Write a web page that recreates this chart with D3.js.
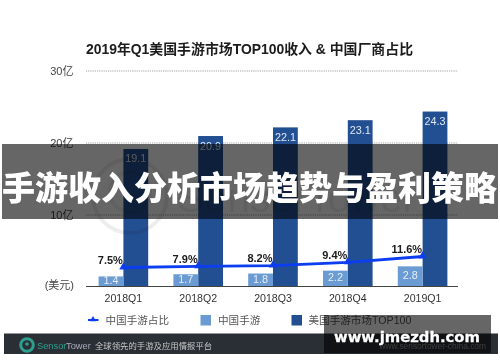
<!DOCTYPE html>
<html><head><meta charset="utf-8">
<script src="https://cdn.jsdelivr.net/npm/d3@7/dist/d3.min.js"></script>
<style>
html,body{margin:0;padding:0;background:#fff}
svg{display:block}
text{font-family:"Liberation Sans","Noto Sans CJK SC",sans-serif}
</style></head><body>
<svg id="c" width="500" height="362"></svg>
<script>
const categories=["2018Q1","2018Q2","2018Q3","2018Q4","2019Q1"];
const top100=[19.1,20.9,22.1,23.1,24.3];
const chinaGames=[1.4,1.7,1.8,2.2,2.8];
const share=[7.5,7.9,8.2,9.4,11.6];
const shareLabels=["7.5%","7.9%","8.2%","9.4%","11.6%"];
const yTicks=[10,20,30];
const yTickLabels=["10亿","20亿","30亿"];
const legendLabels=["中国手游占比","中国手游","美国手游市场TOP100"];
const titleText="2019年Q1美国手游市场TOP100收入 & 中国厂商占比";
const overlayText="手游收入分析市场趋势与盈利策略";

const svg=d3.select("#c");
const defs=svg.append("defs");
defs.append("filter").attr("id","soft").attr("filterUnits","userSpaceOnUse")
  .attr("x",0).attr("y",0).attr("width",500).attr("height",362)
  .append("feGaussianBlur").attr("stdDeviation",0.45);
defs.append("filter").attr("id","soft2").attr("filterUnits","userSpaceOnUse")
  .attr("x",0).attr("y",0).attr("width",500).attr("height",362)
  .append("feGaussianBlur").attr("stdDeviation",0.3);
const chart=svg.append("g").attr("filter","url(#soft)");

const x=d3.scaleBand().domain(categories).range([86,460]);
const cx=d=>x(d)+x.bandwidth()/2;
const y=d3.scaleLinear().domain([0,30]).range([286.5,70.5]);
const shareY=d3.scaleLinear().domain([7.5,11.6]).range([267.5,256.5]);
const barW=24.8;

chart.append("text").attr("x",86).attr("y",54).attr("font-size",13.9).attr("font-weight",700)
  .attr("fill","#1a1a1a").text(titleText);

const gy=chart.append("g").attr("transform","translate(86,0)")
  .call(d3.axisLeft(y).tickValues(yTicks).tickSize(-372).tickPadding(0).tickFormat((d,i)=>yTickLabels[i]));
gy.select(".domain").remove();
gy.selectAll(".tick line").attr("stroke","#8a8a8a").attr("stroke-width",0.8).attr("stroke-dasharray","1.2 1");
gy.selectAll(".tick text").attr("x",-12.5).attr("font-size",11).attr("fill","#444");

chart.append("text").attr("x",74).attr("y",289).attr("text-anchor","end").attr("font-size",11).attr("fill","#444").text("(美元)");

chart.selectAll(".top").data(categories).join("rect").attr("class","top").attr("x",d=>cx(d)).attr("width",barW)
  .attr("y",(d,i)=>y(top100[i])).attr("height",(d,i)=>y(0)-y(top100[i])).attr("fill","#245091");
chart.selectAll(".cn").data(categories).join("rect").attr("class","cn").attr("x",d=>cx(d)-barW).attr("width",barW)
  .attr("y",(d,i)=>y(chinaGames[i])).attr("height",(d,i)=>y(0)-y(chinaGames[i])).attr("fill","#6a9bd2");

chart.selectAll(".tv").data(categories).join("text").attr("class","tv").attr("x",d=>cx(d)+barW/2).attr("y",(d,i)=>y(top100[i])+13.5)
  .attr("text-anchor","middle").attr("font-size",10.8).attr("fill","#dfe7f2").text((d,i)=>top100[i].toFixed(1));
chart.selectAll(".cv").data(categories).join("text").attr("class","cv").attr("x",d=>cx(d)-barW/2)
  .attr("y",(d,i)=>(y(chinaGames[i])+y(0))/2+2.5)
  .attr("text-anchor","middle").attr("font-size",10.8).attr("fill","#e6eef8").text((d,i)=>chinaGames[i].toFixed(1));

chart.append("path").datum(categories).attr("fill","none").attr("stroke","#0a3cf0").attr("stroke-width",2.8)
  .attr("d",d3.line().x(d=>cx(d)).y(d=>shareY(share[categories.indexOf(d)])));
chart.selectAll(".m").data(categories).join("path").attr("class","m")
  .attr("d",d3.symbol(d3.symbolTriangle,30))
  .attr("transform",(d,i)=>`translate(${cx(d)},${shareY(share[i])-0.5})`).attr("fill","#0a3cf0");
chart.selectAll(".sl").data(categories).join("text").attr("class","sl").attr("x",d=>cx(d)-0.5).attr("y",(d,i)=>shareY(share[i])-3.5)
  .attr("text-anchor","end").attr("font-size",11).attr("font-weight",700).attr("fill","#1a1a1a").text((d,i)=>shareLabels[i]);

chart.append("line").attr("x1",86).attr("x2",458).attr("y1",y(0)).attr("y2",y(0)).attr("stroke","#444").attr("stroke-width",1);
chart.selectAll(".xl").data(categories).join("text").attr("class","xl").attr("x",cx).attr("y",302).attr("text-anchor","middle")
  .attr("font-size",10.6).attr("fill","#333").text(d=>d);

// legend
const lg=chart.append("g");
lg.append("line").attr("x1",88).attr("x2",98.5).attr("y1",320).attr("y2",320).attr("stroke","#0a3cf0").attr("stroke-width",2);
lg.append("path").attr("d",d3.symbol(d3.symbolTriangle,16)).attr("transform","translate(93,319.5)").attr("fill","#0a3cf0");
lg.append("text").attr("x",105.5).attr("y",324).attr("font-size",10.6).attr("fill","#555").text(legendLabels[0]);
lg.append("rect").attr("x",200.5).attr("y",315).attr("width",10.5).attr("height",10.5).attr("fill","#6a9bd2");
lg.append("text").attr("x",218).attr("y",324).attr("font-size",10.6).attr("fill","#555").text(legendLabels[1]);
lg.append("rect").attr("x",291.5).attr("y",315).attr("width",10.5).attr("height",10.5).attr("fill","#245091");
lg.append("text").attr("x",308.5).attr("y",324).attr("font-size",10.6).attr("fill","#555").text(legendLabels[2]);

// footer
chart.append("rect").attr("x",4).attr("y",333.5).attr("width",494).attr("height",20.5).attr("fill","#2b2f36");
chart.append("circle").attr("cx",27).attr("cy",345).attr("r",6.3).attr("fill","none").attr("stroke","#2f9e8f").attr("stroke-width",3);
chart.append("circle").attr("cx",27).attr("cy",344).attr("r",1.8).attr("fill","#2f9e8f");
chart.append("text").attr("x",37).attr("y",349).attr("font-size",9.3).attr("fill","#2f9e8f").text("Sensor");
chart.append("text").attr("x",66).attr("y",349).attr("font-size",9.3).attr("fill","#aab").text("Tower");
chart.append("text").attr("x",95).attr("y",349).attr("font-size",8.4).attr("fill","#c8c8c8").text("全球领先的手游及应用情报平台");
chart.append("text").attr("x",486).attr("y",349).attr("text-anchor","end").attr("font-size",8.4).attr("fill","#999").text("www.sensortower-china.com");

// faint SensorTower watermark
chart.append("circle").attr("cx",130).attr("cy",196).attr("r",37).attr("fill","none").attr("stroke","#000").attr("stroke-opacity",0.07).attr("stroke-width",4);
chart.append("circle").attr("cx",130).attr("cy",192).attr("r",20).attr("fill","none").attr("stroke","#000").attr("stroke-opacity",0.05).attr("stroke-width",4);
chart.append("text").attr("x",177).attr("y",212).attr("font-size",41).attr("fill","#000").attr("fill-opacity",0.07).text("SensorTower");

// overlays
svg.append("rect").attr("x",2).attr("y",144).attr("width",496).attr("height",75).attr("fill","#000").attr("fill-opacity",0.6);
svg.append("text").attr("x",249.5).attr("y",199.5).attr("text-anchor","middle").attr("font-size",33).attr("font-weight",900)
  .attr("fill","#fff").attr("filter","url(#soft2)").attr("style","font-family:'Noto Sans CJK SC'").text(overlayText);
svg.append("rect").attr("x",324).attr("y",315).attr("width",167).attr("height",38).attr("fill","#000").attr("fill-opacity",0.6);
svg.append("text").attr("x",407).attr("y",341.7).attr("text-anchor","middle").attr("font-size",14.8).attr("font-weight",700)
  .attr("fill","#fff").attr("stroke","#fff").attr("stroke-width",0.3).attr("filter","url(#soft2)").attr("style","font-family:'DejaVu Sans'").text("www.jmezdh.com");
</script></body></html>
